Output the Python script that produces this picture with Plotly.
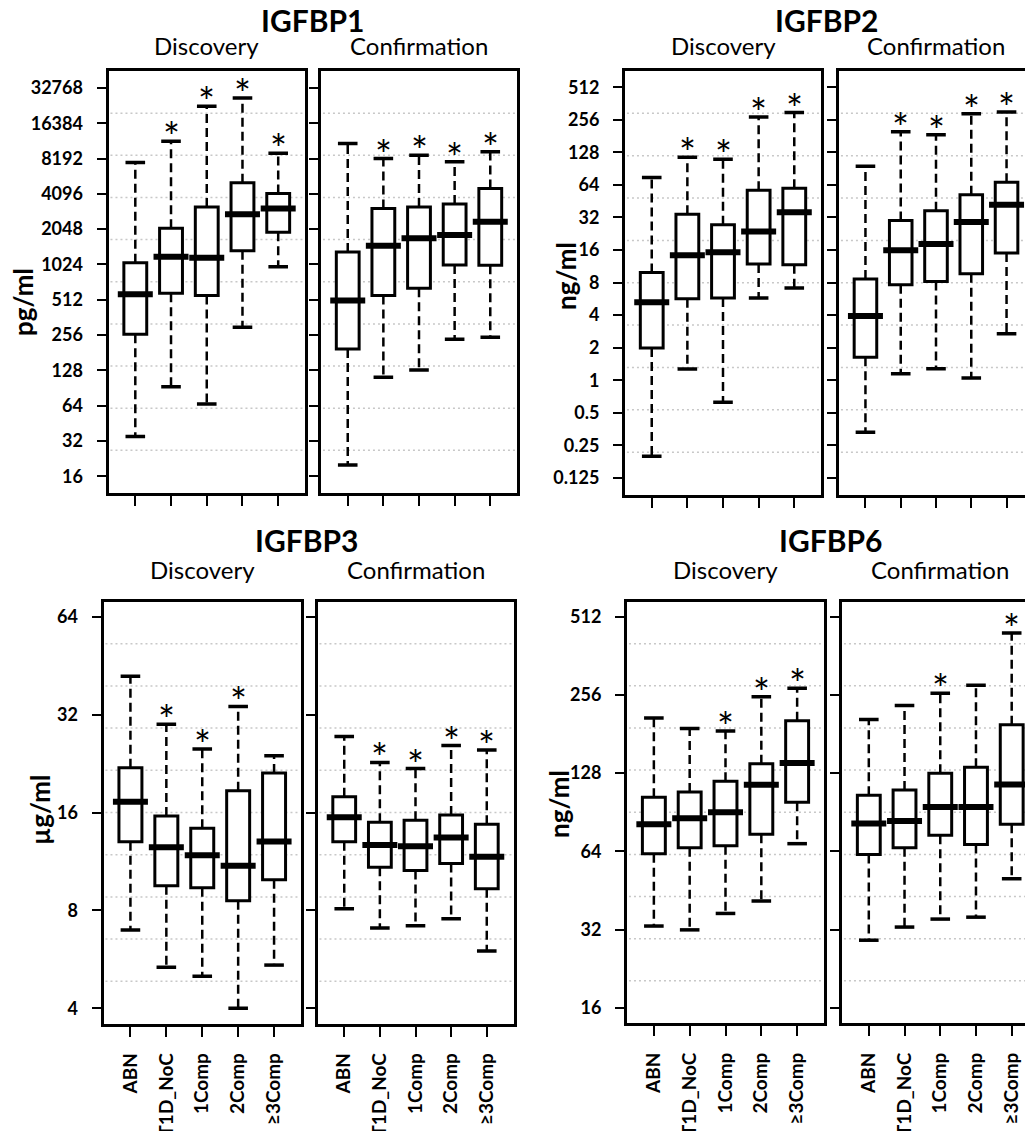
import math
import plotly.graph_objects as go

groups = ["ABN", "T1D_NoC", "1Comp", "2Comp", "≥3Comp"]

# IGFBP1, pg/ml
igfbp1_disc_low = [35, 93, 66, 299, 981]
igfbp1_disc_q1 = [260, 582, 556, 1342, 1923]
igfbp1_disc_med = [570, 1190, 1170, 2750, 3077]
igfbp1_disc_q3 = [1060, 2080, 3160, 5090, 4130]
igfbp1_disc_high = [7580, 11500, 22900, 26900, 9090]
igfbp1_disc_sig = [0, 1, 1, 1, 1]
igfbp1_conf_low = [20, 112, 129, 236, 245]
igfbp1_conf_q1 = [195, 556, 641, 1013, 1007]
igfbp1_conf_med = [504, 1480, 1709, 1824, 2370]
igfbp1_conf_q3 = [1307, 3077, 3160, 3350, 4554]
igfbp1_conf_high = [11000, 8190, 8750, 7680, 9340]
igfbp1_conf_sig = [0, 1, 1, 1, 1]

# IGFBP2, ng/ml
igfbp2_disc_low = [0.198, 1.27, 0.625, 5.75, 7.12]
igfbp2_disc_q1 = [1.99, 5.67, 5.75, 11.9, 11.7]
igfbp2_disc_med = [5.25, 14.3, 15.3, 23.8, 35.8]
igfbp2_disc_q3 = [9.93, 34.3, 27.4, 57.2, 59.7]
igfbp2_disc_high = [75, 115.5, 110.7, 272, 299]
igfbp2_disc_sig = [0, 1, 1, 1, 1]
igfbp2_conf_low = [0.33, 1.15, 1.28, 1.05, 2.69]
igfbp2_conf_q1 = [1.63, 7.64, 8.2, 9.65, 15.0]
igfbp2_conf_med = [3.92, 15.9, 18.2, 29.0, 41.9]
igfbp2_conf_q3 = [8.62, 30.0, 36.9, 51.8, 67.8]
igfbp2_conf_high = [95.4, 199, 186, 292, 303]
igfbp2_conf_sig = [0, 1, 1, 1, 1]

# IGFBP3, µg/ml
igfbp3_disc_low = [6.96, 5.35, 5.02, 4.0, 5.43]
igfbp3_disc_q1 = [13.0, 9.52, 9.39, 8.57, 9.94]
igfbp3_disc_med = [17.28, 12.52, 11.83, 10.98, 13.03]
igfbp3_disc_q3 = [21.96, 15.6, 14.3, 18.66, 21.16]
igfbp3_disc_high = [41.97, 29.9, 25.1, 33.9, 23.9]
igfbp3_disc_sig = [0, 1, 1, 1, 0]
igfbp3_conf_low = [8.09, 7.06, 7.18, 7.54, 6.0]
igfbp3_conf_q1 = [13.0, 10.85, 10.61, 11.14, 9.33]
igfbp3_conf_med = [15.46, 12.7, 12.59, 13.4, 11.69]
igfbp3_conf_q3 = [17.88, 14.94, 15.15, 15.73, 14.73]
igfbp3_conf_high = [27.4, 22.8, 21.84, 25.7, 24.9]
igfbp3_conf_sig = [0, 1, 1, 1, 1]

# IGFBP6, ng/ml
igfbp6_disc_low = [33.0, 31.9, 36.9, 41.2, 68.5]
igfbp6_disc_q1 = [62.6, 66.1, 67.3, 74.4, 99]
igfbp6_disc_med = [81.3, 85.8, 90.5, 115.4, 140]
igfbp6_disc_q3 = [103.3, 108.2, 119.2, 139, 203.7]
igfbp6_disc_high = [208.8, 190.3, 186.2, 252.3, 272]
igfbp6_disc_sig = [0, 0, 1, 1, 1]
igfbp6_conf_low = [29.1, 32.7, 35.1, 35.7, 50.2]
igfbp6_conf_q1 = [62.2, 66.1, 73.8, 68.0, 81.3]
igfbp6_conf_med = [81.9, 83.7, 94.8, 94.8, 115.8]
igfbp6_conf_q3 = [105.2, 110.2, 128, 135, 196.6]
igfbp6_conf_high = [206, 233.3, 259.7, 279, 443.9]
igfbp6_conf_sig = [0, 0, 1, 0, 1]

igfbp1_ticks = [16, 32, 64, 128, 256, 512, 1024, 2048, 4096, 8192, 16384, 32768]
igfbp2_ticks = [0.125, 0.25, 0.5, 1, 2, 4, 8, 16, 32, 64, 128, 256, 512]
igfbp3_ticks = [4, 8, 16, 32, 64]
igfbp6_ticks = [16, 32, 64, 128, 256, 512]

W, H = 1033, 1131
FONT = "Lato, Open Sans, sans-serif"

# (title, unit, ticks, log2 range, left panel px, right panel px, panel top/bottom px,
#  title xy, subtitle y, unit label xy, show x labels, disc data, conf data)
panels = [
    ("IGFBP1", "pg/ml", igfbp1_ticks, (3.54, 15.48), (100.5, 297), (313, 509), (63, 484.5),
     (304, 12), 38, (15, 294), False,
     (igfbp1_disc_low, igfbp1_disc_q1, igfbp1_disc_med, igfbp1_disc_q3, igfbp1_disc_high, igfbp1_disc_sig),
     (igfbp1_conf_low, igfbp1_conf_q1, igfbp1_conf_med, igfbp1_conf_q3, igfbp1_conf_high, igfbp1_conf_sig)),
    ("IGFBP2", "ng/ml", igfbp2_ticks, (-3.51, 9.50), (617, 813), (831, 1025), (63, 486.5),
     (818, 12), 38, (558, 268), False,
     (igfbp2_disc_low, igfbp2_disc_q1, igfbp2_disc_med, igfbp2_disc_q3, igfbp2_disc_high, igfbp2_disc_sig),
     (igfbp2_conf_low, igfbp2_conf_q1, igfbp2_conf_med, igfbp2_conf_q3, igfbp2_conf_high, igfbp2_conf_sig)),
    ("IGFBP3", "µg/ml", igfbp3_ticks, (1.844, 6.156), (95.5, 293), (309.5, 505.5), (593.5, 1015.5),
     (298, 532), 561, (32, 802), True,
     (igfbp3_disc_low, igfbp3_disc_q1, igfbp3_disc_med, igfbp3_disc_q3, igfbp3_disc_high, igfbp3_disc_sig),
     (igfbp3_conf_low, igfbp3_conf_q1, igfbp3_conf_med, igfbp3_conf_q3, igfbp3_conf_high, igfbp3_conf_sig)),
    ("IGFBP6", "ng/ml", igfbp6_ticks, (3.804, 9.196), (619, 816), (834, 1030.5), (593.5, 1015),
     (822, 532), 561, (551, 796), True,
     (igfbp6_disc_low, igfbp6_disc_q1, igfbp6_disc_med, igfbp6_disc_q3, igfbp6_disc_high, igfbp6_disc_sig),
     (igfbp6_conf_low, igfbp6_conf_q1, igfbp6_conf_med, igfbp6_conf_q3, igfbp6_conf_high, igfbp6_conf_sig)),
]

fig = go.Figure()
annotations = []
shapes = []
L2 = math.log10(2)
n = 0

for title, unit, ticks, lr, xl, xr, yb, txy, suby, uxy, xlabels, disc, conf in panels:
    for (x0, x1), data, sub, first in [(xl, disc, "Discovery", True), (xr, conf, "Confirmation", False)]:
        n += 1
        xa = "x" if n == 1 else f"x{n}"
        ya = "y" if n == 1 else f"y{n}"
        lo, q1, med, q3, hi, sig = data

        fig.add_trace(go.Box(x=groups, q1=q1, median=med, q3=q3, lowerfence=q1, upperfence=q3,
                             width=0.64, whiskerwidth=0, fillcolor="white", boxpoints=False,
                             line=dict(color="black", width=3), hoverinfo="skip",
                             xaxis=xa, yaxis=ya, showlegend=False))
        wx, wy = [], []
        for g, a, b, c, d in zip(groups, lo, q1, q3, hi):
            wx += [g, g, None, g, g, None]
            wy += [c, d, None, b, a, None]
        fig.add_trace(go.Scatter(x=wx, y=wy, mode="lines",
                                 line=dict(color="black", width=2.5, dash="9px,5px"),
                                 xaxis=xa, yaxis=ya, showlegend=False, hoverinfo="skip"))
        fig.add_trace(go.Scatter(x=groups + groups, y=hi + lo, mode="markers",
                                 marker=dict(symbol="line-ew", size=14, line=dict(color="black", width=3.5)),
                                 xaxis=xa, yaxis=ya, showlegend=False, hoverinfo="skip"))
        fig.add_trace(go.Scatter(x=groups, y=med, mode="markers",
                                 marker=dict(symbol="line-ew", size=25, line=dict(color="black", width=6)),
                                 xaxis=xa, yaxis=ya, showlegend=False, hoverinfo="skip"))
        for g, h, s in zip(groups, hi, sig):
            if s:
                annotations.append(dict(text="*", x=g, y=math.log10(h), xref=xa, yref=ya,
                                        showarrow=False, xanchor="center", yanchor="middle", yshift=4,
                                        font=dict(family=FONT, size=40, color="black")))

        fig.layout[xa.replace("x", "xaxis")] = dict(
            domain=[x0 / W, x1 / W], anchor=ya, type="category", categoryarray=groups,
            range=[-0.75, 4.75], showline=True, mirror=True, linecolor="black", linewidth=3,
            ticks="outside", ticklen=10, tickwidth=2, tickcolor="black", showgrid=False,
            zeroline=False, showticklabels=xlabels, tickangle=-90, ticklabelstandoff=9,
            tickfont=dict(family=FONT, size=19, color="black", weight="bold"))
        fig.layout[ya.replace("y", "yaxis")] = dict(
            domain=[1 - yb[1] / H, 1 - yb[0] / H], anchor=xa, type="log",
            range=[lr[0] * L2, lr[1] * L2], tickvals=ticks, ticktext=[str(t) for t in ticks],
            showline=True, mirror=True, linecolor="black", linewidth=3,
            ticks="outside", ticklen=9, tickwidth=2, tickcolor="black", showgrid=False,
            zeroline=False, showticklabels=first, ticklabelstandoff=10,
            tickfont=dict(family=FONT, size=18, color="black", weight="bold"))

        for k in range(1, 10):
            shapes.append(dict(type="line", xref=f"{xa} domain", yref=f"{ya} domain",
                               x0=0.01, x1=0.99, y0=k / 10, y1=k / 10, layer="below",
                               line=dict(color="#c8c8c8", width=1.5, dash="2px,3px")))
        annotations.append(dict(text=sub, x=(x0 + x1) / 2 / W, y=1 - suby / H, xref="paper", yref="paper",
                                showarrow=False, xanchor="center", yanchor="middle",
                                font=dict(family=FONT, size=24, color="black")))

    annotations.append(dict(text=title, x=txy[0] / W, y=1 - txy[1] / H, xref="paper", yref="paper",
                            showarrow=False, xanchor="center", yanchor="middle",
                            font=dict(family=FONT, size=30, color="black", weight="bold")))
    annotations.append(dict(text=unit, x=uxy[0] / W, y=1 - uxy[1] / H, xref="paper", yref="paper",
                            showarrow=False, xanchor="center", yanchor="middle", textangle=-90,
                            font=dict(family=FONT, size=26, color="black", weight="bold")))

fig.update_layout(width=W, height=H, margin=dict(l=0, r=0, t=0, b=0),
                  paper_bgcolor="white", plot_bgcolor="white",
                  annotations=annotations, shapes=shapes, showlegend=False)

fig.write_html("out.html")
